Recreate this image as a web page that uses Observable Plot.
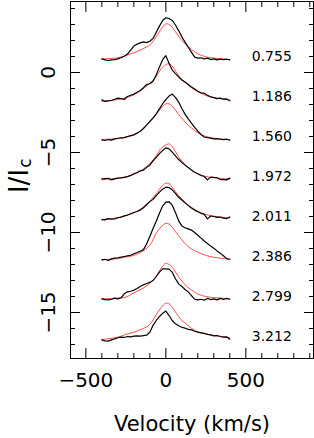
<!DOCTYPE html>
<html><head><meta charset="utf-8">
<script src="https://cdn.jsdelivr.net/npm/d3@7"></script>
<script src="https://cdn.jsdelivr.net/npm/@observablehq/plot@0.6"></script>
<style>html,body{margin:0;padding:0;background:#fff}</style>
</head><body><div id="chart"></div>
<script>
// phase labels of the eight profiles (top to bottom)
const phases = ["0.755","1.186","1.560","1.972","2.011","2.386","2.799","3.212"];
// vertical offset applied to each profile
const offsets = [-0.15, -2.65, -5.15, -7.65, -10.15, -12.65, -15.15, -17.65];

// observed profiles (black), I/Ic at these velocities (km/s)
const obsVel = [-400,-380,-360,-340,-320,-300,-280,-260,-240,-220,-200,-180,-160,-140,-120,-100,-80,-60,-40,-20,0,20,40,60,80,100,120,140,160,180,200,220,240,260,280,300,320,340,360,380,400];
const obs0 = [1.00,0.94,0.90,0.94,0.96,1.00,1.07,1.17,1.30,1.55,1.80,1.92,2.00,2.06,2.02,2.10,2.28,2.67,3.05,3.40,3.57,3.52,3.40,3.12,2.77,2.38,2.05,1.73,1.42,1.11,1.05,1.07,1.00,1.05,0.96,1.00,0.94,0.98,0.96,0.98,0.94];
const obs1 = [0.94,0.84,0.88,0.90,0.98,1.05,1.02,0.96,1.15,1.23,1.30,1.42,1.53,1.70,1.90,1.95,2.10,2.50,3.00,3.45,3.70,3.22,2.80,2.58,2.38,2.18,2.05,1.90,1.75,1.62,1.48,1.38,1.36,1.22,1.13,1.08,1.02,1.05,0.98,1.00,0.88];
const obs2 = [0.94,0.90,0.96,0.92,1.00,1.04,1.07,1.08,1.15,1.20,1.25,1.36,1.48,1.65,1.88,2.09,2.32,2.57,2.88,3.20,3.45,3.68,3.80,3.60,3.30,2.90,2.55,2.25,1.98,1.72,1.48,1.28,1.12,1.08,1.05,1.00,1.02,0.98,0.96,0.98,0.92];
const obs3 = [1.00,1.02,1.04,0.94,1.00,1.05,1.06,1.10,1.14,1.22,1.32,1.40,1.50,1.55,1.72,1.86,2.12,2.35,2.58,2.78,2.94,2.88,2.67,2.44,2.21,2.03,1.86,1.71,1.56,1.42,1.32,1.21,1.15,0.94,1.11,1.10,1.07,0.96,0.96,0.94,1.05];
const obs4 = [0.96,0.94,1.02,0.98,1.00,1.07,1.11,1.19,1.24,1.32,1.40,1.46,1.55,1.69,1.90,2.08,2.22,2.46,2.67,2.86,2.98,2.96,2.82,2.60,2.35,2.18,2.00,1.83,1.68,1.55,1.45,1.35,1.28,1.00,1.18,1.15,1.10,1.12,1.05,1.02,1.12];
const obs5 = [0.94,0.98,0.90,1.00,1.05,1.07,1.11,1.15,1.19,1.23,1.32,1.40,1.48,1.58,1.94,2.40,2.90,3.35,3.85,4.30,4.55,4.57,4.36,3.90,3.38,3.06,2.95,2.88,2.80,2.65,2.48,2.30,2.12,1.96,1.80,1.66,1.50,1.36,1.20,1.02,0.98];
const obs6 = [1.00,0.96,0.94,0.98,1.05,1.00,1.07,1.32,1.44,1.48,1.55,1.65,1.78,1.88,1.96,2.03,2.15,2.40,2.67,2.88,2.88,2.86,2.67,2.26,1.94,1.78,1.59,1.44,1.21,0.98,0.94,0.98,0.92,1.03,0.96,1.00,0.94,1.03,0.96,1.03,0.98];
const obs7 = [0.94,0.88,0.86,0.94,1.00,1.07,1.11,1.09,1.15,1.13,1.17,1.19,1.17,1.21,1.23,1.42,1.85,2.15,2.40,2.60,2.74,2.46,2.15,1.94,1.82,1.73,1.67,1.59,1.57,1.48,1.42,1.38,1.34,1.28,1.25,1.19,1.21,1.15,1.11,1.13,0.98];

// model profiles (red)
const modVel = [-400,-300,-250,-200,-150,-100,-60,-30,0,20,40,60,80,100,130,160,200,250,300,350,400];
const mod0 = [1.00,1.07,1.21,1.38,1.60,1.88,2.38,2.85,3.19,3.15,2.98,2.70,2.42,2.15,1.85,1.60,1.32,1.13,1.05,1.00,0.96];
const mod1 = [0.86,0.96,1.07,1.25,1.57,1.98,2.40,2.88,3.15,3.19,3.05,2.75,2.45,2.22,1.95,1.70,1.45,1.22,1.08,1.00,0.94];
const mod2 = [0.96,1.02,1.10,1.25,1.57,2.05,2.52,2.92,3.19,3.19,3.05,2.80,2.52,2.30,1.95,1.68,1.38,1.15,1.04,0.98,0.96];
const mod3 = [0.94,1.05,1.12,1.28,1.55,1.95,2.45,2.90,3.12,3.19,3.02,2.70,2.38,2.12,1.80,1.55,1.32,1.15,1.07,1.02,1.00];
const mod4 = [0.96,1.07,1.20,1.38,1.67,2.11,2.57,2.98,3.23,3.21,2.98,2.70,2.45,2.25,1.95,1.72,1.48,1.28,1.17,1.10,1.07];
const mod5 = [0.94,1.02,1.12,1.22,1.45,1.85,2.60,3.00,3.22,3.18,2.98,2.70,2.45,2.20,1.85,1.62,1.42,1.22,1.10,1.04,0.98];
const mod6 = [1.00,1.05,1.11,1.38,1.62,1.98,2.42,2.92,3.22,3.15,2.98,2.68,2.38,2.12,1.78,1.56,1.30,1.15,1.08,1.04,1.00];
const mod7 = [0.96,1.11,1.28,1.42,1.61,1.90,2.52,2.95,3.23,3.19,2.98,2.67,2.40,2.15,1.92,1.66,1.44,1.32,1.21,1.15,1.07];

// axis ticks
const xMajor = [-500, 0, 500];
const xMinor = [-400,-300,-200,-100,100,200,300,400,600,700,800,900];
const yMajor = [0, -5, -10, -15];
const yMinor = [4,3,2,1,-1,-2,-3,-4,-6,-7,-8,-9,-11,-12,-13,-14,-16,-17];

// phase label placement (velocity and lift above the continuum)
const labelVel = 537;
const labelLift = 1.17;

const obsAll = [obs0,obs1,obs2,obs3,obs4,obs5,obs6,obs7];
const modAll = [mod0,mod1,mod2,mod3,mod4,mod5,mod6,mod7];
const obsRows = obsAll.flatMap((arr,k) => arr.map((I,i) => ({v: obsVel[i], y: I + offsets[k], k})));
const modRows = modAll.flatMap((arr,k) => arr.map((I,i) => ({v: modVel[i], y: I + offsets[k], k})));
const labelRows = phases.map((p,k) => ({v: labelVel, y: offsets[k] + labelLift, p}));

const blank = () => "";
const chart = Plot.plot({
  width: 314, height: 438,
  marginLeft: 70, marginRight: 1, marginTop: 1, marginBottom: 80,
  x: {domain: [-596, 923]},
  y: {domain: [-17.875, 4.4375]},
  style: {fontFamily: "DejaVu Sans", fontSize: "20px", background: "#fff", color: "#000"},
  marks: [
    Plot.line(modRows, {x: "v", y: "y", z: "k", stroke: "#ff3838", strokeWidth: 0.9, curve: "catmull-rom"}),
    Plot.line(obsRows, {x: "v", y: "y", z: "k", stroke: "#000", strokeWidth: 1.2}),
    Plot.text(labelRows, {x: "v", y: "y", text: "p", textAnchor: "start", fontSize: 14, fill: "#000"}),
    Plot.frame({stroke: "#000"}),
    Plot.axisX(xMajor, {anchor: "bottom", tickSize: -10, tickFormat: blank, label: null}),
    Plot.axisX(xMinor, {anchor: "bottom", tickSize: -5, tickFormat: blank, label: null}),
    Plot.axisX(xMajor, {anchor: "top", tickSize: -10, tickFormat: blank, label: null}),
    Plot.axisX(xMinor, {anchor: "top", tickSize: -5, tickFormat: blank, label: null}),
    Plot.axisX(xMajor, {anchor: "bottom", tickSize: 0, tickPadding: 14, fontSize: 20, label: null}),
    Plot.axisY(yMajor, {anchor: "left", tickSize: -10, tickFormat: blank, label: null}),
    Plot.axisY(yMinor, {anchor: "left", tickSize: -5, tickFormat: blank, label: null}),
    Plot.axisY(yMajor, {anchor: "right", tickSize: -10, tickFormat: blank, label: null}),
    Plot.axisY(yMinor, {anchor: "right", tickSize: -5, tickFormat: blank, label: null}),
    Plot.axisY(yMajor, {anchor: "left", tickSize: 0, tickPadding: 16, tickRotate: -90, fontSize: 20, label: null}),
    Plot.text(["Velocity (km/s)"], {frameAnchor: "bottom", dy: 72, lineAnchor: "bottom", fontSize: 21}),
    Plot.text(["I/I"], {frameAnchor: "left", dx: -43, dy: 1, rotate: -90, lineAnchor: "bottom", textAnchor: "middle", fontSize: 26}),
    Plot.text(["c"], {frameAnchor: "left", dx: -40, dy: -17, rotate: -90, lineAnchor: "bottom", textAnchor: "middle", fontSize: 17})
  ]
});
document.getElementById("chart").appendChild(chart);
</script>
</body></html>
